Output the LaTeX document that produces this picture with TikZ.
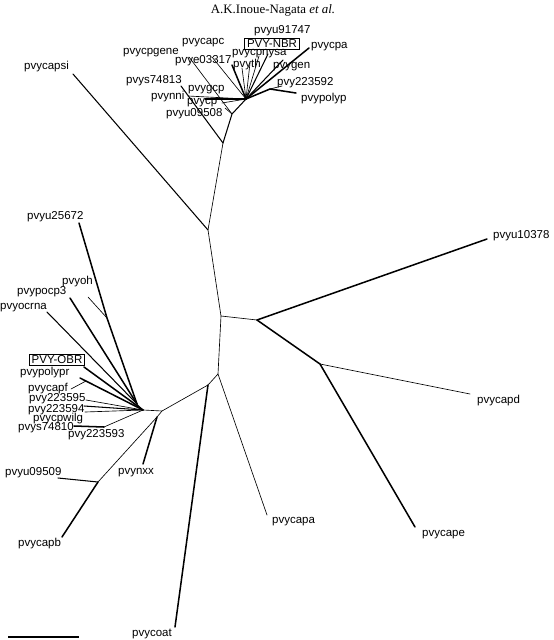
\documentclass[tikz,border=0pt]{standalone}
\usepackage{fontspec}
\setmainfont{Liberation Serif}
\newfontfamily\taxfont{Liberation Sans}
\usepackage{tikz}
\usetikzlibrary{positioning}
\tikzset{
  br/.style={line width=0.55pt, line cap=round},
  brmid/.style={line width=0.9pt, line cap=round},
  brthick/.style={line width=1.3pt, line cap=round},
  taxon/.style={anchor=west, inner sep=0pt, font=\taxfont\fontsize{9.8}{11}\selectfont},
  boxed/.style={draw, line width=0.6pt, inner xsep=2pt, inner ysep=1.2pt, font=\taxfont\fontsize{9.8}{11}\selectfont}
}

\begin{document}
\begin{tikzpicture}[x=0.03cm, y=-0.03cm]
  \useasboundingbox (0,0) rectangle (553,640);
  \node[font=\fontsize{11}{13}\selectfont] (head) at (273,10) {A.K.Inoue-Nagata \textit{et al.}};

  % inner nodes
  \coordinate (b1) at (223,143);
  \coordinate (b2) at (232,114);
  \coordinate (hub) at (246,99);
  \coordinate (n1) at (270,89);
  \coordinate (b3) at (208,230);
  \coordinate (b4) at (221,316);
  \coordinate (b5) at (257,320);
  \coordinate (b6) at (320,364);
  \coordinate (b7) at (218,374);
  \coordinate (b8) at (208,385);
  \coordinate (b9) at (162,411);
  \coordinate (b10) at (143,410);
  \coordinate (b12) at (157,417);
  \coordinate (b11) at (98,482);
  \coordinate (nup) at (137,404);
  \coordinate (noh) at (107,318);
  \coordinate (npr) at (86,381);
  \coordinate (ns) at (104,427);

  % tips
  \coordinate (tS74813) at (181,86);
  \coordinate (tCpgene) at (189,57);
  \coordinate (tU09508) at (225,108);
  \coordinate (tNni) at (188,96);
  \coordinate (tGcp) at (205,99);
  \coordinate (tCp) at (222,103);
  \coordinate (tE03317) at (212,57);
  \coordinate (tCapc) at (232,65);
  \coordinate (tTh) at (242,68);
  \coordinate (tT5) at (250,63);
  \coordinate (tNysa) at (259,56);
  \coordinate (tNbr) at (268,54);
  \coordinate (tGen) at (283,60);
  \coordinate (tCpa) at (309,48);
  \coordinate (t223592) at (282,86);
  \coordinate (tPolyp) at (296,93);
  \coordinate (tCapsi) at (73,74);
  \coordinate (tU10378) at (487,239);
  \coordinate (tCapd) at (470,394);
  \coordinate (tCape) at (415,527);
  \coordinate (tCapa) at (267,515);
  \coordinate (tCoat) at (175,627);
  \coordinate (tNxx) at (143,464);
  \coordinate (tU09509) at (58,478);
  \coordinate (tCapb) at (62,537);
  \coordinate (tOcrna) at (47,312);
  \coordinate (tPocp3) at (70,298);
  \coordinate (tU25672) at (79,223);
  \coordinate (tOh) at (88,297);
  \coordinate (tObr) at (84,367);
  \coordinate (tPolypr) at (80,378);
  \coordinate (tCapf) at (71,389);
  \coordinate (t223595) at (86,400);
  \coordinate (t223594) at (84,406);
  \coordinate (tCpwilg) at (85,412);
  \coordinate (tS74810) at (74,426);

  % backbone
  \draw[br] (b1) -- (b3) -- (b4) -- (b7) -- (b8) -- (b9) -- (b10);
  \draw[br] (b4) -- (b5);
  \draw[br] (b9) -- (b12) -- (b11);

  % top group
  \draw[brmid] (b1) -- (b2) -- (hub);
  \draw[brmid] (b1) -- (tS74813);
  \draw[br] (b2) -- (tCpgene);
  \draw[br] (b2) -- (tU09508);
  \draw[br] (hub) -- (tNni);
  \draw[brmid] (hub) -- (tGcp);
  \draw[br] (hub) -- (tCp);
  \draw[br] (hub) -- (tE03317);
  \draw[brthick] (hub) -- (tCapc);
  \draw[br] (hub) -- (tTh);
  \draw[br] (hub) -- (tT5);
  \draw[br] (hub) -- (tNysa);
  \draw[brmid] (hub) -- (tNbr);
  \draw[brmid] (hub) -- (tGen);
  \draw[brthick] (hub) -- (tCpa);
  \draw[brthick] (hub) -- (n1) -- (tPolyp);
  \draw[br] (n1) -- (t223592);
  \draw[brmid] (b3) -- (tCapsi);

  % right group
  \draw[brthick] (b5) -- (tU10378);
  \draw[brthick] (b5) -- (b6) -- (tCape);
  \draw[br] (b6) -- (tCapd);
  \draw[br] (b7) -- (tCapa);
  \draw[brthick] (b8) -- (tCoat);

  % lower left group
  \draw[brthick] (b12) -- (tNxx);
  \draw[brmid] (b11) -- (tU09509);
  \draw[brthick] (b11) -- (tCapb);

  % left group
  \draw[br] (b10) -- (nup);
  \draw[brmid] (nup) -- (tOcrna);
  \draw[brthick] (nup) -- (tPocp3);
  \draw[brthick] (nup) -- (noh) -- (tU25672);
  \draw[br] (noh) -- (tOh);
  \draw[brthick] (b10) -- (tObr);
  \draw[brthick] (b10) -- (tPolypr);
  \draw[br] (npr) -- (tCapf);
  \draw[br] (b10) -- (t223595);
  \draw[brmid] (b10) -- (t223594);
  \draw[br] (b10) -- (tCpwilg);
  \draw[br] (b10) -- (ns);
  \draw[brthick] (ns) -- (tS74810);

  % labels
  \node[taxon] (lU91747) at (254,31) {pvyu91747};
  \node[boxed] (lNbr) at (272,44) {PVY-NBR};
  \node[taxon] (lCpa) at (311,47) {pvycpa};
  \node[taxon] (lCapc) at (182,43) {pvycapc};
  \node[taxon] (lCpgene) at (123,53) {pvycpgene};
  \node[taxon] (lE03317) at (175,61) {pvye03317};
  \node[taxon] (lNysa) at (232,54) {pvycpnysa};
  \node[taxon] (lTh) at (233,65) {pvyth};
  \node[taxon] (lGen) at (273,67) {pvygen};
  \node[taxon] (l223592) at (277,83) {pvy223592};
  \node[taxon] (lPolyp) at (301,99) {pvypolyp};
  \node[taxon] (lS74813) at (126,81) {pvys74813};
  \node[taxon] (lNni) at (151,97) {pvynni};
  \node[taxon] (lGcp) at (188,90) {pvygcp};
  \node[taxon] (lCp) at (187,103) {pvycp};
  \node[taxon] (lU09508) at (166,114) {pvyu09508};
  \node[taxon] (lCapsi) at (24,67) {pvycapsi};
  \node[taxon] (lU10378) at (493,236) {pvyu10378};
  \node[taxon] (lCapd) at (477,401) {pvycapd};
  \node[taxon] (lCape) at (422,535) {pvycape};
  \node[taxon] (lCapa) at (272,522) {pvycapa};
  \node[taxon] (lCoat) at (132,634) {pvycoat};
  \node[taxon] (lNxx) at (118,473) {pvynxx};
  \node[taxon] (lU09509) at (5,473) {pvyu09509};
  \node[taxon] (lCapb) at (18,544) {pvycapb};
  \node[taxon] (lU25672) at (27,217) {pvyu25672};
  \node[taxon] (lOh) at (62,282) {pvyoh};
  \node[taxon] (lPocp3) at (17,292) {pvypocp3};
  \node[taxon] (lOcrna) at (0,308) {pvyocrna};
  \node[boxed] (lObr) at (57,360) {PVY-OBR};
  \node[taxon] (lPolypr) at (20,373) {pvypolypr};
  \node[taxon] (lCapf) at (28,389) {pvycapf};
  \node[taxon] (l223595) at (29,399) {pvy223595};
  \node[taxon] (l223594) at (28,410) {pvy223594};
  \node[taxon] (lCpwilg) at (33,419) {pvycpwilg};
  \node[taxon] (lS74810) at (18,428) {pvys74810};
  \node[taxon] (l223593) at (68,435) {pvy223593};

  % scale bar
  \coordinate (sbL) at (8,637);
  \coordinate (sbR) at (79,637);
  \draw[brthick, line cap=butt] (sbL) -- (sbR);
\end{tikzpicture}
\end{document}
